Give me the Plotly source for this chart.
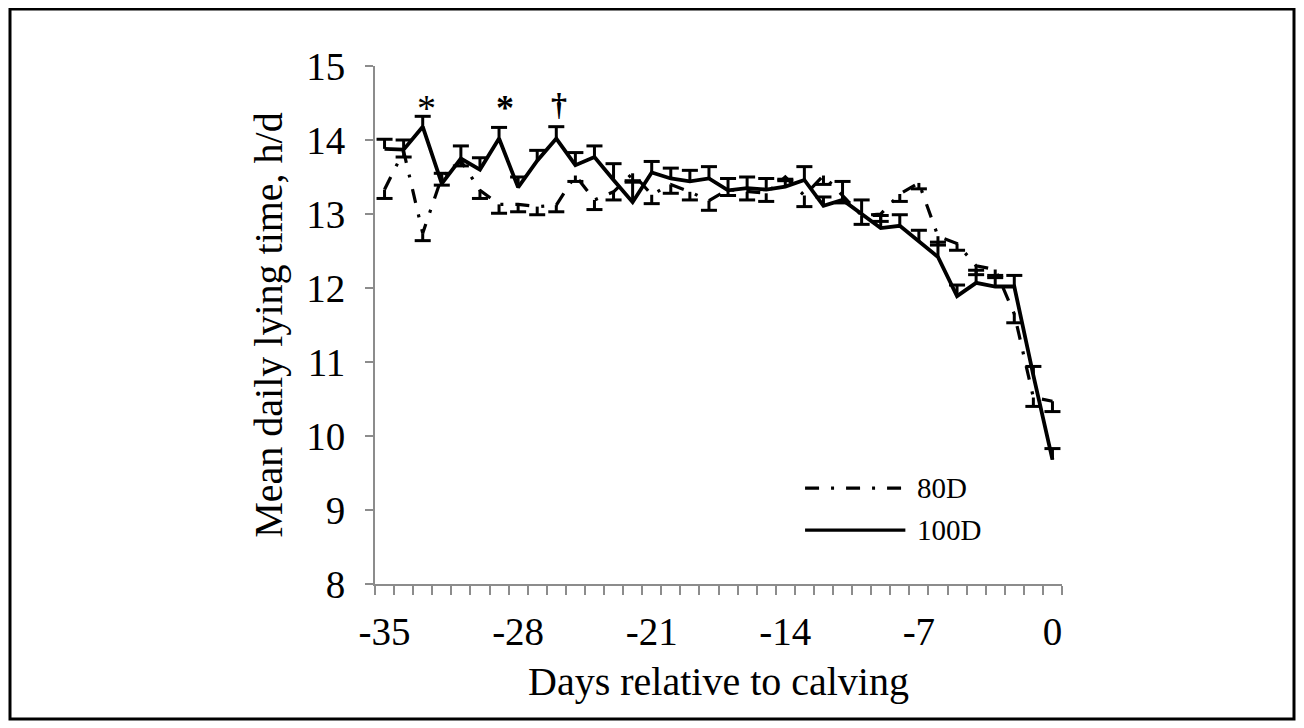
import plotly.graph_objects as go

# ---------------- data ----------------
days = list(range(-35, 1))

lying_80D = [13.33, 13.85, 12.74, 13.50, 13.72, 13.32, 13.13, 13.13, 13.10, 13.12,
             13.52, 13.19, 13.30, 13.55, 13.26, 13.40, 13.30, 13.18, 13.33, 13.30,
             13.28, 13.50, 13.25, 13.52, 13.25, 12.98, 13.00, 13.27, 13.42, 12.70,
             12.60, 12.30, 12.25, 11.65, 10.52, 10.47]
sem_80D = [0.12, 0.08, 0.10, 0.11, 0.07, 0.11, 0.12, 0.10, 0.11, 0.09,
           0.08, 0.13, 0.11, 0.10, 0.12, 0.12, 0.11, 0.13, 0.08, 0.11,
           0.11, 0.05, 0.15, 0.12, 0.10, 0.12, 0.10, 0.10, 0.08, 0.12,
           0.09, 0.12, 0.11, 0.12, 0.12, 0.14]

lying_100D = [13.88, 13.87, 14.18, 13.41, 13.75, 13.60, 14.02, 13.36, 13.72, 14.02,
              13.66, 13.77, 13.46, 13.16, 13.56, 13.48, 13.44, 13.48, 13.32, 13.35,
              13.33, 13.37, 13.46, 13.11, 13.19, 13.00, 12.81, 12.84, 12.63, 12.42,
              11.89, 12.07, 12.02, 12.02, 10.82, 9.68]
sem_100D = [0.13, 0.13, 0.14, 0.14, 0.17, 0.16, 0.15, 0.14, 0.14, 0.16,
            0.17, 0.15, 0.22, 0.27, 0.15, 0.14, 0.15, 0.16, 0.16, 0.15,
            0.15, 0.10, 0.18, 0.12, 0.25, 0.19, 0.17, 0.15, 0.15, 0.20,
            0.15, 0.17, 0.15, 0.15, 0.12, 0.15]

series_names = ["80D", "100D"]
x_tick_values = [-35, -28, -21, -14, -7, 0]
y_tick_values = [8, 9, 10, 11, 12, 13, 14, 15]

# significance marks: (day, symbol, bold)
sig_days = [-33, -29, -26]
sig_symbols = ["*", "*", "†"]
sig_bold = [False, True, True]

FONT = "Liberation Serif"
AXIS_GRAY = "#8c8c8c"


def one_sided_error(xs, ys, errs, direction, cap=0.42):
    """Build a one-sided error-bar path (stem + cap) from the data arrays."""
    px, py = [], []
    for x, y, e in zip(xs, ys, errs):
        end = y + direction * e
        px += [x, x, None, x - cap, x + cap, None]
        py += [y, end, None, end, end, None]
    return px, py


fig = go.Figure()

ex, ey = one_sided_error(days, lying_80D, sem_80D, -1)
fig.add_trace(go.Scatter(x=ex, y=ey, mode="lines", line=dict(color="black", width=3),
                         hoverinfo="skip", showlegend=False))
ex, ey = one_sided_error(days, lying_100D, sem_100D, +1)
fig.add_trace(go.Scatter(x=ex, y=ey, mode="lines", line=dict(color="black", width=3),
                         hoverinfo="skip", showlegend=False))

DASHDOT = "14px,12px,3px,12px"
fig.add_trace(go.Scatter(x=days, y=lying_80D, mode="lines", name=series_names[0],
                         line=dict(color="black", width=3.2, dash=DASHDOT),
                         showlegend=False))
fig.add_trace(go.Scatter(x=days, y=lying_100D, mode="lines", name=series_names[1],
                         line=dict(color="black", width=3.8),
                         showlegend=False))

# significance annotations (placed above the marked 100D points)
sig_y = [14.43, 14.43, 14.49]
sig_size = [38, 36, 32]
sig_xshift = [4, 6, 3]
for d, s, b, yy, sz, xs in zip(sig_days, sig_symbols, sig_bold, sig_y, sig_size, sig_xshift):
    fig.add_annotation(x=d, y=yy, text=(f"<b>{s}</b>" if b else s),
                       showarrow=False, xanchor="center", yanchor="middle", xshift=xs,
                       font=dict(family=FONT, size=sz, color="black"))

# legend drawn in the plot area (long line samples as in the reference)
leg_x0, leg_x1, leg_tx = 0.626, 0.772, 0.786
leg_y = [0.185, 0.104]
leg_dash = [DASHDOT, "solid"]
for name, yy, dsh in zip(series_names, leg_y, leg_dash):
    fig.add_shape(type="line", xref="paper", yref="paper", x0=leg_x0, x1=leg_x1, y0=yy, y1=yy,
                  line=dict(color="black", width=3.4, dash=dsh))
    fig.add_annotation(xref="paper", yref="paper", x=leg_tx, y=yy, text=name, showarrow=False,
                       xanchor="left", yanchor="middle",
                       font=dict(family=FONT, size=29, color="black"))

# outer frame
fig.add_shape(type="rect", xref="paper", yref="paper",
              x0=-0.5313, x1=1.3377, y0=-0.2606, y1=1.1100,
              line=dict(color="black", width=3), fillcolor="rgba(0,0,0,0)", layer="above")

# the page body adds an 8px offset, so the margins are reduced by 8px on the left/top
fig.update_layout(
    width=1304, height=728,
    margin=dict(l=367, r=250, t=58, b=152, autoexpand=False),
    paper_bgcolor="white", plot_bgcolor="white",
    showlegend=False,
    font=dict(family=FONT, color="black"),
    xaxis=dict(
        range=[-35.5, 0.5], tickmode="array", tickvals=x_tick_values,
        ticktext=[str(v) for v in x_tick_values], ticks="",
        showline=True, linecolor=AXIS_GRAY, linewidth=2,
        showgrid=False, zeroline=False,
        minor=dict(ticks="outside", tick0=-35.5, dtick=1, ticklen=9,
                   tickcolor=AXIS_GRAY, tickwidth=2, showgrid=False),
        tickfont=dict(family=FONT, size=39, color="black"),
        ticklabelstandoff=12,
        title=dict(text="Days relative to calving", standoff=15,
                   font=dict(family=FONT, size=40, color="black")),
        automargin=False, fixedrange=True,
    ),
    yaxis=dict(
        range=[8, 15], tickmode="array", tickvals=y_tick_values,
        ticks="outside", ticklen=8, tickcolor=AXIS_GRAY, tickwidth=2,
        showline=True, linecolor=AXIS_GRAY, linewidth=2,
        showgrid=False, zeroline=False,
        tickfont=dict(family=FONT, size=39, color="black"),
        ticklabelstandoff=12,
        title=dict(text="Mean daily lying time, h/d", standoff=11,
                   font=dict(family=FONT, size=40, color="black")),
        automargin=False, fixedrange=True,
    ),
)

fig.write_html("out.html")
